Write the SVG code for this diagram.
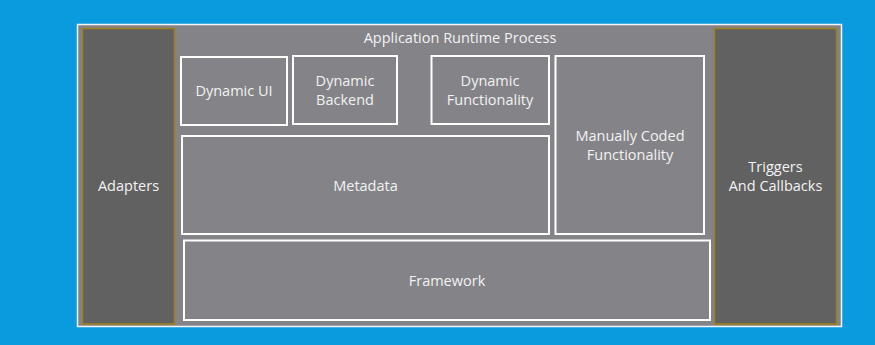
<svg xmlns="http://www.w3.org/2000/svg" width="875" height="345" viewBox="0 0 875 345">
<style>
.box{fill:#848388;stroke:#ffffff;stroke-width:2}
.side{fill:#616161;stroke:#a0801c;stroke-width:1.5}
text{font-family:"Open Sans","Liberation Sans",sans-serif;font-size:14.5px;fill:#f2f2f2;text-anchor:middle}
</style>
<rect x="0" y="0" width="875" height="345" fill="#0a9ade"/>
<g id="process">
<rect x="77.5" y="24.5" width="764" height="302" fill="#848388" stroke="#f4f4f4" stroke-width="1.5"/>
<text x="460" y="43">Application Runtime Process</text>
</g>
<g id="adapters">
<rect class="side" x="82.5" y="28.5" width="92" height="295.5"/>
<text x="128.5" y="191">Adapters</text>
</g>
<g id="triggers">
<rect class="side" x="714.5" y="28.5" width="122" height="295.5"/>
<text x="775.5" y="172">Triggers</text>
<text x="775.5" y="191">And Callbacks</text>
</g>
<g id="dynamic-ui">
<rect class="box" x="181" y="57" width="106" height="68"/>
<text x="234" y="96">Dynamic UI</text>
</g>
<g id="dynamic-backend">
<rect class="box" x="293" y="56" width="104" height="68"/>
<text x="345" y="86">Dynamic</text>
<text x="345" y="105">Backend</text>
</g>
<g id="dynamic-functionality">
<rect class="box" x="431.5" y="56" width="117.5" height="68"/>
<text x="490" y="86">Dynamic</text>
<text x="490" y="105">Functionality</text>
</g>
<g id="manually-coded">
<rect class="box" x="555.5" y="56" width="148.5" height="178"/>
<text x="630" y="141">Manually Coded</text>
<text x="630" y="160">Functionality</text>
</g>
<g id="metadata">
<rect class="box" x="182" y="136" width="367" height="98"/>
<text x="365.5" y="191">Metadata</text>
</g>
<g id="framework">
<rect class="box" x="184" y="240.5" width="526" height="79.5"/>
<text x="447" y="286">Framework</text>
</g>
<g id="connectors"/>
</svg>
